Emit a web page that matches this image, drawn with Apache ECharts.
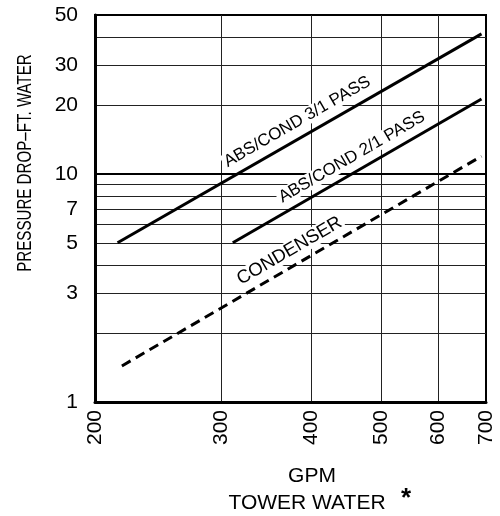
<!DOCTYPE html>
<html><head><meta charset="utf-8">
<script src="https://cdn.jsdelivr.net/npm/echarts@6/dist/echarts.min.js"></script>
<style>html,body{margin:0;padding:0;background:#fff}#c{width:500px;height:516px}</style>
</head><body><div id="c"></div>
<script>
// ---- data ----
const gpmRange = [200, 700];
const dropRange = [1, 50];
const xTickLabels = [200, 300, 400, 500, 600, 700];
const xGridValues = [300, 400, 500, 600];
const yTickLabels = [1, 3, 5, 7, 10, 20, 30, 50];
const yGridValues = [2, 3, 4, 5, 6, 7, 8, 9, 10, 20, 30, 40];
const seriesNames = ['ABS/COND 3/1 PASS', 'ABS/COND 2/1 PASS', 'CONDENSER'];
const pass31 = [[215, 5], [690, 41.3]];
const pass21 = [[311, 5], [690, 21.4]];
const condenser = [[218, 1.44], [690, 12.0]];
const heavyGridValue = [10];
const yTitle = 'PRESSURE DROP\u2013FT. WATER';
const xTitle1 = 'GPM';
const xTitle2 = 'TOWER WATER';

// ---- styling ----
const FONT = '"Liberation Sans", Arial, Helvetica, sans-serif';
const chart = echarts.init(document.getElementById('c'), null, {renderer: 'canvas'});
const grid = {left: 95, top: 15, width: 391, height: 387, show: true, borderColor: '#000', borderWidth: 2, containLabel: false};

const option = {
  animation: false,
  backgroundColor: '#fff',
  grid: grid,
  xAxis: {
    type: 'log', logBase: 10, min: gpmRange[0], max: gpmRange[1],
    axisLine: {show: true, lineStyle: {color: '#000', width: 3}},
    axisTick: {show: false, customValues: xGridValues},
    splitLine: {show: true, lineStyle: {color: '#222', width: 1}},
    axisLabel: {show: true, customValues: xTickLabels, rotate: 90, margin: 8, color: '#000', fontSize: 21, fontFamily: FONT, formatter: v => String(Math.round(v))}
  },
  yAxis: {
    type: 'log', logBase: 10, min: dropRange[0], max: dropRange[1],
    axisLine: {show: true, lineStyle: {color: '#000', width: 3}},
    axisTick: {show: false, customValues: yGridValues},
    splitLine: {show: true, lineStyle: {color: '#222', width: 1}},
    axisLabel: {show: true, customValues: yTickLabels, margin: 17, color: '#000', fontSize: 21, fontFamily: FONT, formatter: v => String(Math.round(v))}
  },
  series: [
    {name: seriesNames[0], type: 'line', data: pass31, symbol: 'none', lineStyle: {color: '#000', width: 3}, z: 5,
     markLine: {silent: true, symbol: 'none', label: {show: false}, lineStyle: {color: '#000', width: 2, type: 'solid'}, data: heavyGridValue.map(v => ({yAxis: v}))}},
    {name: seriesNames[1], type: 'line', data: pass21, symbol: 'none', lineStyle: {color: '#000', width: 3}, z: 5},
    {name: seriesNames[2], type: 'line', data: condenser, symbol: 'none', lineStyle: {color: '#000', width: 3, type: [10, 6]}, z: 5}
  ]
};
chart.setOption(option);

// ---- annotations placed through the axes ----
const lineSets = [pass31, pass21, condenser];
const labelPlace = [{t: 0.515, off: 15.5, size: 17}, {t: 0.508, off: 14.5, size: 17}, {t: 0.487, off: 15, size: 18.5}];
const graphics = [];
lineSets.forEach((d, i) => {
  const a = chart.convertToPixel({gridIndex: 0}, d[0]);
  const b = chart.convertToPixel({gridIndex: 0}, d[1]);
  const dx = b[0] - a[0], dy = b[1] - a[1];
  const len = Math.hypot(dx, dy);
  const ux = dx / len, uy = dy / len;
  const nx = uy, ny = -ux; // normal pointing up-left
  const p = labelPlace[i];
  const cx = a[0] + dx * p.t + nx * p.off;
  const cy = a[1] + dy * p.t + ny * p.off;
  graphics.push({type: 'text', x: cx, y: cy, rotation: Math.atan2(-dy, dx), z: 100,
    style: {text: seriesNames[i], font: p.size + 'px ' + FONT, fill: '#000', align: 'center', verticalAlign: 'middle', backgroundColor: '#fff', padding: [0, 2]}});
});
graphics.push({type: 'text', x: 25, y: 163, rotation: Math.PI / 2, scaleX: 0.72, z: 100,
  style: {text: yTitle, font: '21px ' + FONT, fill: '#000', align: 'center', verticalAlign: 'middle'}});
graphics.push({type: 'text', x: 312, y: 476, z: 100,
  style: {text: xTitle1, font: '21px ' + FONT, fill: '#000', align: 'center', verticalAlign: 'middle'}});
graphics.push({type: 'text', x: 307, y: 503, z: 100,
  style: {text: xTitle2, font: '21px ' + FONT, fill: '#000', align: 'center', verticalAlign: 'middle'}});
graphics.push({type: 'text', x: 406, y: 499, z: 100,
  style: {text: '*', font: 'bold 26px ' + FONT, fill: '#000', align: 'center', verticalAlign: 'middle'}});
chart.setOption({graphic: graphics});
</script>
</body></html>
